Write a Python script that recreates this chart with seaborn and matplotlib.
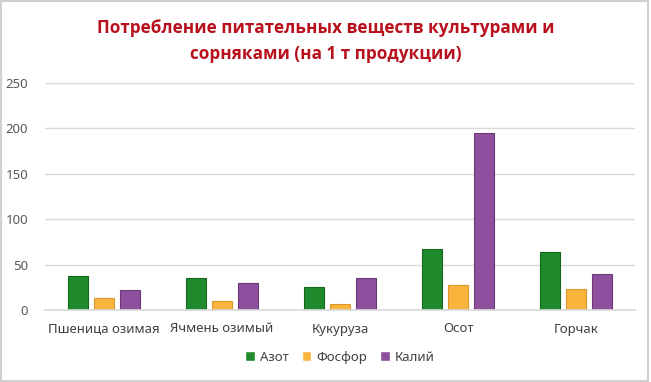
import matplotlib
matplotlib.use("Agg")
import matplotlib.pyplot as plt
import seaborn as sns
import pandas as pd
from matplotlib.patches import Rectangle

categories = ["Пшеница озимая", "Ячмень озимый", "Кукуруза", "Осот", "Горчак"]
series_names = ["Азот", "Фосфор", "Калий"]
azot = [37, 35, 25, 67, 64]
fosfor = [13, 10, 7, 27, 23]
kaliy = [22, 30, 35, 195, 40]
yticks = [0, 50, 100, 150, 200, 250]

rows = []
for name, vals in zip(series_names, [azot, fosfor, kaliy]):
    for c, v in zip(categories, vals):
        rows.append({"cat": c, "series": name, "val": v})
df = pd.DataFrame(rows)

sns.set_theme(style="white")
plt.rcParams['font.family'] = ['Noto Sans', 'DejaVu Sans']

colors = ["#1f8a2b", "#f9b43c", "#8e4f9e"]
edges = ["#17661f", "#d9962a", "#6a3a77"]

fig = plt.figure(figsize=(6.51, 3.82), dpi=100)
ax = fig.add_axes([45/651, 1 - 310/382, 590/651, 227/382 + 0.001])

sns.barplot(data=df, x="cat", y="val", hue="series", palette=colors,
            width=0.66, gap=0.2, ax=ax, legend=True, saturation=1)
for i, cont in enumerate(ax.containers):
    for p in cont:
        p.set_edgecolor(edges[i])
        p.set_linewidth(0.8)

ax.set_ylim(0, 250)
ax.set_yticks(yticks)
ax.set_yticklabels([str(t) for t in yticks], fontsize=9.5, color="#595959")
ax.tick_params(axis="x", labelsize=9.5, labelcolor="#404040", length=0, pad=9)
ax.tick_params(axis="y", length=0, pad=12)
ax.set_xlabel("")
ax.set_ylabel("")
ax.grid(axis="y", color="#d9d9d9", linewidth=1)
ax.set_axisbelow(True)
for s in ["top", "right", "left"]:
    ax.spines[s].set_visible(False)
ax.spines["bottom"].set_color("#d9d9d9")
ax.set_xlim(-0.5, 4.5)

leg = ax.legend(loc="center", bbox_to_anchor=(0.5, (310 - 357) / 227.0),
                ncol=3, frameon=False, fontsize=9.5, handlelength=0.7,
                handleheight=0.7, handletextpad=0.4, columnspacing=1.0)
for t in leg.get_texts():
    t.set_color("#404040")

title_kw = dict(ha="center", va="center", fontsize=12.3, fontweight="bold",
                color="#b8101c", family=["Open Sans", "Noto Sans", "DejaVu Sans"])
fig.text(0.5, 1 - 28/382, "Потребление питательных веществ культурами и", **title_kw)
fig.text(0.5, 1 - 54/382, "сорняками (на 1 т продукции)", **title_kw)

fig.patches.append(Rectangle((0.002, 0.003), 0.994, 0.994, transform=fig.transFigure,
                             fill=False, edgecolor="#d0d0d0", linewidth=1.5))

fig.savefig("out.png", dpi=100)
